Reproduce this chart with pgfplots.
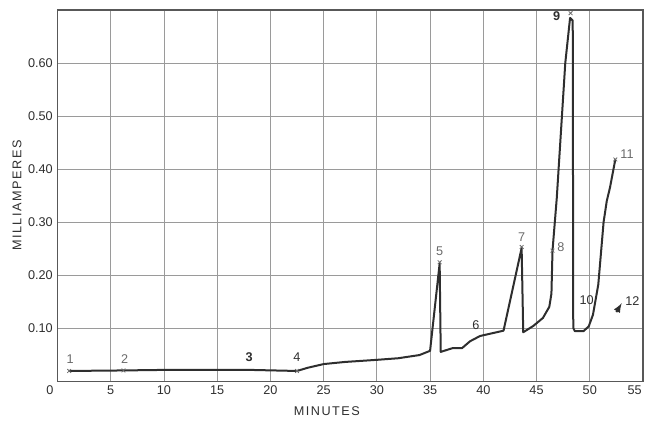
\documentclass[border=0pt]{standalone}
\usepackage{fontspec}
\setmainfont{Liberation Sans}
\newfontfamily\spaced[LetterSpace=12]{Liberation Sans}
\usepackage{pgfplots}
\pgfplotsset{compat=1.18}
\definecolor{ink}{HTML}{2E2E2E}
\definecolor{gridc}{HTML}{9A9A9A}
\definecolor{lab}{HTML}{6A6A6A}
\begin{document}
\begin{tikzpicture}
\useasboundingbox (-43.1pt,-30pt) rectangle (442.1pt,285.75pt);
\begin{axis}[
  scale only axis, width=439.1pt, height=278.25pt,
  xmin=0, xmax=55, ymin=0, ymax=0.70,
  xtick={0,5,...,55},
  xticklabels={\makebox[0pt][r]{0\hspace{3pt}},5,10,15,20,25,30,35,40,45,50,\makebox[0pt][r]{55\hspace{1pt}}},
  ytick={0.1,0.2,0.3,0.4,0.5,0.6},
  yticklabel style={/pgf/number format/.cd, fixed, fixed zerofill, precision=2},
  /pgf/number format/assume math mode=true,
  tick label style={font=\fontsize{9.5}{11}\selectfont, text=ink},
  grid=major,
  major grid style={gridc, line width=0.6pt},
  major tick length=0pt,
  axis line style={ink!80, line width=0.8pt},
  xlabel={\spaced MINUTES},
  xlabel style={at={(rel axis cs:0.46,0)}, anchor=center, yshift=-22.5pt, font=\fontsize{9.5}{11}\selectfont, text=ink},
  clip=false,
]
% main curve
\addplot[ink, line width=1.5pt, line join=round, mark=none] coordinates {
 (1.1,0.019) (6.2,0.020) (10,0.021) (18.1,0.021) (22.5,0.019)
 (23.5,0.025) (25,0.032) (27,0.036) (30,0.040) (32,0.043) (34,0.049) (35.0,0.057)
 (35.9,0.222) (36.0,0.055) (37.1,0.062) (38.0,0.062) (38.75,0.075) (39.7,0.085)
 (41.9,0.095) (43.6,0.251) (43.75,0.092) (44.7,0.104) (45.6,0.119) (46.2,0.140)
 (46.4,0.165) (46.5,0.246) (46.9,0.345) (47.7,0.600) (48.15,0.685) (48.4,0.680)
 (48.45,0.100) (48.6,0.094) (49.4,0.094) (49.9,0.103) (50.3,0.125) (50.8,0.182)
 (51.3,0.300) (51.6,0.340) (51.9,0.365) (52.4,0.418)
};
% point 12 arrow
\addplot[ink, line width=1.4pt, -latex, mark=none] coordinates {(52.5,0.130) (53.0,0.147)};
% reading marks
\addplot[only marks, mark=x, mark size=2pt, lab, line width=0.6pt] coordinates {
 (1.1,0.019) (6.2,0.020) (22.5,0.019) (35.9,0.224) (43.6,0.253) (46.5,0.246) (48.2,0.694) (52.4,0.418)
};
\node[rotate=90, ink, font=\fontsize{9.5}{11}\selectfont] at ([xshift=-30.4pt]rel axis cs:0,0.5) {\spaced MILLIAMPERES};
\node[lab, font=\fontsize{9.5}{11}\selectfont] at (axis cs:1.2,0.042) {1};
\node[lab, font=\fontsize{9.5}{11}\selectfont] at (axis cs:6.3,0.042) {2};
\node[ink, font=\bfseries\fontsize{9.5}{11}\selectfont] at (axis cs:18.0,0.045) {3};
\node[ink, font=\fontsize{9.5}{11}\selectfont] at (axis cs:22.5,0.045) {4};
\node[lab, font=\fontsize{9.5}{11}\selectfont] at (axis cs:35.9,0.245) {5};
\node[ink, font=\fontsize{9.5}{11}\selectfont] at (axis cs:39.3,0.106) {6};
\node[lab, font=\fontsize{9.5}{11}\selectfont] at (axis cs:43.6,0.272) {7};
\node[lab, font=\fontsize{9.5}{11}\selectfont] at (axis cs:47.3,0.253) {8};
\node[ink, font=\bfseries\fontsize{9.5}{11}\selectfont] at (axis cs:46.9,0.689) {9};
\node[ink, font=\fontsize{9.5}{11}\selectfont] at (axis cs:49.7,0.152) {10};
\node[lab, font=\fontsize{9.5}{11}\selectfont] at (axis cs:53.5,0.428) {11};
\node[ink, font=\fontsize{9.5}{11}\selectfont] at (axis cs:54.0,0.150) {12};
\end{axis}
\end{tikzpicture}
\end{document}
